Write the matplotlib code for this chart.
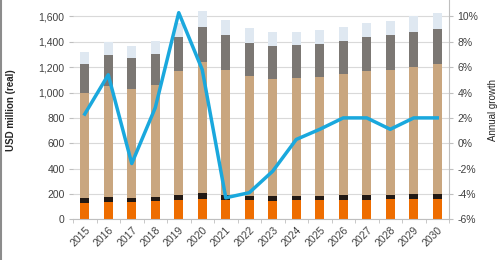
import numpy as np
import matplotlib.pyplot as plt
from matplotlib.ticker import FuncFormatter, MultipleLocator, FixedLocator

plt.rcParams["font.family"] = ["Liberation Sans", "DejaVu Sans"]

years = [str(y) for y in range(2015, 2031)]
orange = [131, 139, 139, 142, 155, 163, 155, 150, 147, 150, 150, 152, 155, 158, 158, 163]
black_top = [165, 176, 168, 176, 192, 205, 192, 184, 184, 186, 184, 189, 192, 192, 197, 202]
tan_top = [994, 1051, 1030, 1059, 1172, 1238, 1177, 1133, 1106, 1112, 1120, 1143, 1170, 1180, 1199, 1222]
gray_top = [1225, 1293, 1270, 1306, 1440, 1519, 1456, 1393, 1366, 1372, 1383, 1408, 1440, 1451, 1477, 1503]
total = [1317, 1400, 1369, 1408, 1550, 1643, 1572, 1506, 1475, 1475, 1493, 1519, 1551, 1566, 1603, 1624]
growth = [2.3, 5.4, -1.6, 2.8, 10.3, 5.8, -4.3, -3.9, -2.2, 0.3, 1.1, 2.0, 2.0, 1.1, 2.0, 2.0]

# segment heights from cumulative tops
black = np.array(black_top) - np.array(orange)
tan = np.array(tan_top) - np.array(black_top)
gray = np.array(gray_top) - np.array(tan_top)
light = np.array(total) - np.array(gray_top)

fig = plt.figure(figsize=(5, 2.6), dpi=100)
ax = fig.add_axes([0.146, 0.1565, 0.752, 0.8435])
x = np.arange(len(years))
w = 0.4
ax.bar(x, orange, w, color="#ee6d00", zorder=2)
ax.bar(x, black, w, bottom=orange, color="#221914", zorder=2)
ax.bar(x, tan, w, bottom=black_top, color="#c9a67f", zorder=2)
ax.bar(x, gray, w, bottom=tan_top, color="#7b7773", zorder=2)
ax.bar(x, light, w, bottom=gray_top, color="#dfe8f1", zorder=2)

ax.set_xlim(-0.5, len(years) - 0.5)
ax.set_ylim(0, 1730)
ax.yaxis.set_major_locator(MultipleLocator(200))
ax.yaxis.set_major_formatter(FuncFormatter(lambda v, p: f"{int(v):,}"))
ax.grid(axis="y", color="#d9d9d9", lw=0.8, zorder=0)
ax.set_axisbelow(True)
for s in ["top", "left", "right"]:
    ax.spines[s].set_visible(False)
ax.spines["bottom"].set_color("#bfbfbf")
ax.set_xticks(x)
ax.set_xticklabels(years, rotation=45, ha="right", rotation_mode="anchor", fontsize=7.5, color="#404040")
ax.tick_params(axis="x", length=0, pad=4)
ax.xaxis.set_minor_locator(FixedLocator(np.arange(-0.5, len(years), 1)))
ax.tick_params(axis="x", which="minor", length=3, color="#bfbfbf")
ax.tick_params(axis="y", length=3, color="#bfbfbf", labelsize=7.5, labelcolor="#404040", pad=3)
ax.set_ylabel("USD million (real)", fontsize=7, fontweight="bold", color="#262626", labelpad=16)

ax2 = ax.twinx()
ax2.plot(x, growth, color="#1aa8dd", lw=2.5, zorder=5)
ax2.set_ylim(-6, 11.3)
ax2.yaxis.set_major_locator(MultipleLocator(2))
ax2.yaxis.set_major_formatter(FuncFormatter(lambda v, p: f"{int(round(v))}%"))
for s in ["top", "left", "bottom"]:
    ax2.spines[s].set_visible(False)
ax2.spines["right"].set_color("#bfbfbf")
ax2.tick_params(axis="y", length=3, color="#bfbfbf", labelsize=7.5, labelcolor="#404040", pad=3)
ax2.set_ylabel("Annual growth", fontsize=7, color="#262626", labelpad=7)

fig.add_artist(plt.Line2D([0.002, 0.002], [0, 1], color="#8c8c8c", lw=1.5))

fig.savefig("out.png", dpi=100)
